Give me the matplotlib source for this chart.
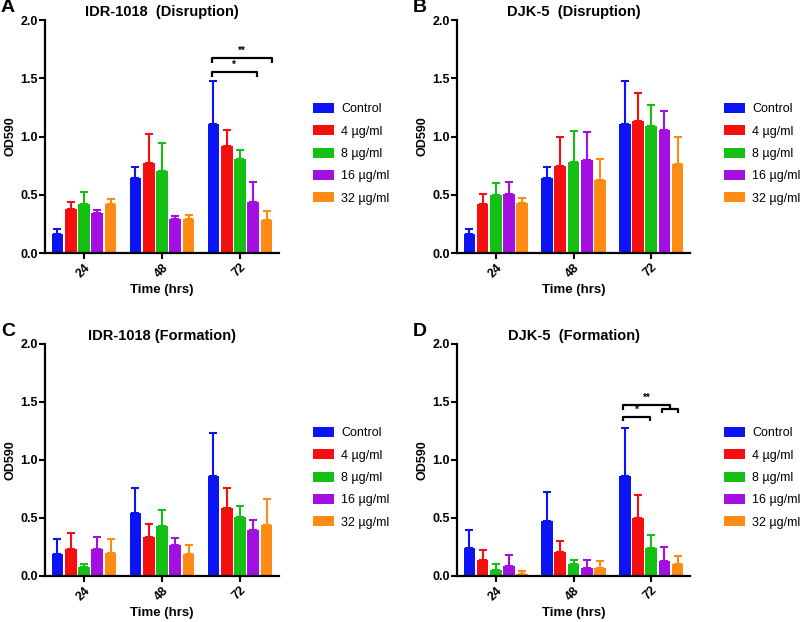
import matplotlib

matplotlib.use("Agg")

import matplotlib.pyplot as plt
import numpy as np

plt.rcParams["font.family"] = ["Liberation Sans", "DejaVu Sans"]

times = ["24", "48", "72"]
doses = ["Control", "4 µg/ml", "8 µg/ml", "16 µg/ml", "32 µg/ml"]
colors = ["#0B14F5", "#F50F0F", "#14C014", "#A30FE0", "#FF8A14"]

# mean OD590 per dose (rows) at 24/48/72 h (cols), and upper error-bar tips
idr_disr_mean = [[0.16, 0.64, 1.11], [0.38, 0.77, 0.92], [0.42, 0.70, 0.81],
                 [0.34, 0.29, 0.44], [0.42, 0.29, 0.28]]
idr_disr_top = [[0.21, 0.74, 1.48], [0.44, 1.02, 1.06], [0.52, 0.94, 0.88],
                [0.37, 0.32, 0.61], [0.46, 0.33, 0.36]]

djk_disr_mean = [[0.16, 0.64, 1.11], [0.42, 0.75, 1.13], [0.50, 0.78, 1.09],
                 [0.51, 0.80, 1.06], [0.43, 0.63, 0.76]]
djk_disr_top = [[0.21, 0.74, 1.48], [0.51, 1.00, 1.37], [0.60, 1.05, 1.27],
                [0.61, 1.04, 1.22], [0.47, 0.81, 1.00]]

idr_form_mean = [[0.19, 0.54, 0.86], [0.23, 0.34, 0.59], [0.08, 0.43, 0.51],
                 [0.23, 0.27, 0.40], [0.20, 0.19, 0.44]]
idr_form_top = [[0.32, 0.76, 1.23], [0.37, 0.45, 0.76], [0.10, 0.57, 0.60],
                [0.34, 0.33, 0.48], [0.32, 0.27, 0.66]]

djk_form_mean = [[0.24, 0.47, 0.86], [0.14, 0.21, 0.50], [0.05, 0.10, 0.24],
                 [0.09, 0.07, 0.13], [0.02, 0.07, 0.10]]
djk_form_top = [[0.40, 0.72, 1.28], [0.22, 0.30, 0.70], [0.10, 0.14, 0.35],
                [0.18, 0.14, 0.25], [0.04, 0.13, 0.17]]

# (panel letter, title, means, error tips, axes rect in figure px: left, top, right, bottom)
panels = [
    ("A", "IDR-1018  (Disruption)", idr_disr_mean, idr_disr_top, (45, 20, 279, 253)),
    ("B", "DJK-5  (Disruption)", djk_disr_mean, djk_disr_top, (457, 20, 690, 253)),
    ("C", "IDR-1018 (Formation)", idr_form_mean, idr_form_top, (45, 344, 279, 576)),
    ("D", "DJK-5  (Formation)", djk_form_mean, djk_form_top, (457, 344, 690, 576)),
]

W, H = 800, 622
STEP = 0.17
BAR_W = 0.15


def bracket(ax, x0, x1, y, label=None, drop=0.035, lw=1.6):
    ax.plot([x0, x0, x1, x1], [y - drop, y, y, y - drop], color="black",
            lw=lw, solid_capstyle="butt", clip_on=False)
    if label:
        ax.text((x0 + x1) / 2, y + 0.02, label, ha="center", va="bottom",
                fontsize=7, fontweight="bold")


def draw_panel(ax, means, tops):
    x = np.arange(len(times))
    for k, (name, col) in enumerate(zip(doses, colors)):
        xs = x + (k - 2) * STEP
        m = np.array(means[k])
        err = np.array(tops[k]) - m
        ax.bar(xs, m, width=BAR_W, color=col, label=name, zorder=2)
        ax.errorbar(xs, m, yerr=[np.zeros_like(err), err], fmt="none",
                    ecolor=col, elinewidth=1.5, capsize=2.6, capthick=1.5,
                    zorder=1)
    ax.set_xlim(-0.5, 2.5)
    ax.set_ylim(0, 2.0)
    ax.set_xticks(x)
    ax.set_xticklabels(times, rotation=45, ha="right", va="top",
                       rotation_mode="anchor", fontweight="bold", fontsize=9)
    ax.set_yticks([0, 0.5, 1.0, 1.5, 2.0])
    ax.set_yticklabels(["0.0", "0.5", "1.0", "1.5", "2.0"],
                       fontweight="bold", fontsize=9)
    for side in ("top", "right"):
        ax.spines[side].set_visible(False)
    for side in ("left", "bottom"):
        ax.spines[side].set_linewidth(1.6)
    ax.tick_params(width=1.5, length=4)
    ax.tick_params(axis="y", pad=1)
    ax.tick_params(axis="x", pad=2)
    ax.set_xlabel("Time (hrs)", fontweight="bold", fontsize=9.5, labelpad=3)
    ax.set_ylabel("OD590", fontweight="bold", fontsize=9, labelpad=3)


fig = plt.figure(figsize=(8.0, 6.22), dpi=100)
axes = {}
for letter, title, means, tops, (l, t, r, b) in panels:
    ax = fig.add_axes([l / W, 1 - b / H, (r - l) / W, (b - t) / H])
    draw_panel(ax, means, tops)
    ax.set_title(title, fontweight="bold", fontsize=10.5, pad=3)
    fig.text((l - 45) / W + 0.001, 1 - (t - 12) / H, letter, fontsize=14,
             fontweight="bold", ha="left", va="center")
    ax.legend(loc="upper left", frameon=False, fontsize=9,
              bbox_to_anchor=((r + 34) / W, 1 - (t + 83) / H),
              bbox_transform=fig.transFigure, borderaxespad=0, borderpad=0,
              handlelength=1.65, handleheight=0.85, handletextpad=0.6,
              labelspacing=0.8)
    axes[letter] = ax

# significance markers
bracket(axes["A"], 1.635, 2.41, 1.67, "**")
bracket(axes["A"], 1.635, 2.22, 1.55, "*")

axD = axes["D"]
bracket(axD, 1.636, 1.99, 1.37, "*")
bracket(axD, 2.14, 2.35, 1.44)
axD.plot([1.636, 1.636, 2.245, 2.245], [1.44, 1.475, 1.475, 1.44],
         color="black", lw=1.6, clip_on=False)
axD.text((1.636 + 2.245) / 2, 1.495, "**", ha="center", va="bottom",
         fontsize=7, fontweight="bold")

fig.savefig("out.png", dpi=100, facecolor="white")
